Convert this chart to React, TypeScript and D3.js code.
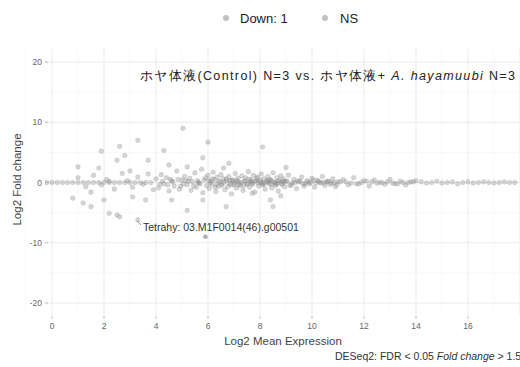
import React from "react";
import * as d3 from "d3";

const xTicks = [0, 2, 4, 6, 8, 10, 12, 14, 16];
const yTicks = [-20, -10, 0, 10, 20];

// NS genes: log2 mean expression and log2 fold change
const nsMean = [
  -0.2, 0.0, 0.2, 0.4, 0.6, 0.8, 1.0, 1.2, 1.4, 1.6, 1.8, 2.0, 2.2, 2.4, 2.6, 2.8, 3.0, 3.2, 3.4, 3.6, 3.8,
  1.0, 1.3, 1.6, 1.9, 2.1, 2.4, 2.7, 2.9, 3.1, 3.3, 3.5, 3.7, 3.9, 2.2, 1.5, 3.0,
  4.0, 4.1, 4.2, 4.3, 4.4, 4.5, 4.6, 4.7, 4.8, 4.9, 5.0, 5.1, 5.2, 5.3, 5.35, 5.4, 5.5, 5.55, 5.6, 5.7,
  5.75, 5.8, 5.9, 5.95, 6.0, 6.05, 6.1, 6.15, 6.2, 6.25, 6.3, 6.35, 6.4, 6.45, 6.5, 6.55, 6.6, 6.65,
  6.7, 6.75, 6.8, 6.85, 6.9, 6.95, 7.0, 7.05, 7.1, 7.15, 7.2, 7.25, 7.3, 7.35, 7.4, 7.45, 7.5, 7.55,
  7.6, 7.65, 7.7, 7.75, 7.8, 7.85, 7.9, 7.95, 8.0, 8.05, 8.1, 8.15, 8.2, 8.25, 8.3, 8.35, 8.4, 8.45,
  8.5, 8.55, 8.6, 8.65, 8.7, 8.75, 8.8, 8.85, 8.9, 8.95, 9.0, 9.1, 9.2, 9.3, 9.4, 9.5, 9.6, 9.7, 9.8,
  9.9, 10.0, 10.1, 10.2, 10.3, 10.4, 10.5, 10.6, 10.7, 10.8, 10.9, 11.0, 11.2, 11.4, 11.6, 11.8, 12.0,
  12.2, 12.4, 12.6, 12.8, 13.0, 13.2, 13.4, 13.6, 13.8, 14.0,
  4.15, 4.55, 4.95, 5.25, 5.65, 6.02, 6.28, 6.58, 6.88, 7.12, 7.38, 7.62, 7.88, 8.12, 8.38, 8.62, 8.88,
  9.15, 9.45, 9.75, 10.05, 10.35, 10.65, 10.95, 11.3, 11.7, 12.1, 12.5, 12.9, 13.3, 13.7,
  4.25, 4.45, 4.65, 4.85, 5.05, 5.15, 5.45, 5.62, 5.85, 6.08, 6.18, 6.32, 6.42, 6.52, 6.62, 6.72, 6.82,
  6.92, 7.02, 7.08, 7.18, 7.28, 7.42, 7.52, 7.58, 7.68, 7.72, 7.82, 7.92, 8.02, 8.08, 8.18, 8.28, 8.32,
  8.42, 8.48, 8.58, 8.68, 8.72, 8.82, 8.92, 9.05, 9.25, 9.35, 9.55, 9.65, 9.85, 9.95, 10.15, 10.25,
  10.45, 10.55, 10.75, 10.85, 11.1, 11.5, 11.9, 12.3, 12.7, 13.1, 13.5, 13.9,
  14.2, 14.4, 14.6, 14.8, 15.0, 15.2, 15.4, 15.6, 15.8, 16.0, 16.2, 16.4, 16.6, 16.8, 17.0, 17.2, 17.4, 17.6, 17.8,
  5.04, 3.3, 2.6, 1.9, 6.0, 8.1, 2.5, 3.7, 5.8, 1.0, 1.8, 4.5, 5.2, 6.8, 2.8, 4.3,
  0.8, 1.5, 2.0, 2.2, 2.6, 3.1, 3.6, 4.6, 5.2, 5.8, 6.7, 7.7, 8.4, 8.5, 3.3, 2.5, 1.2, 9.0, 8.8,
];
const nsLfc = [
  0, 0, 0, 0, 0, 0, 0, 0, 0, 0, 0, 0, 0, 0, 0, 0, 0, 0, 0, 0, 0,
  0.8, -0.7, 1.2, -0.4, 0.5, -1.1, 1.5, 0.3, -0.8, 0.9, -0.3, 1.4, -1.2, 0.2, -1.6, 1.9,
  0.6, -0.9, 1.3, -0.2, 0.8, -1.4, 0.3, -0.6, 1.9, -1.1, 0.4, 1.0, -0.4, 0.7, -1.3, 0.1, 1.6, -0.8, 0.3, -0.2,
  2.2, -1.7, 0.8, -0.5, 1.2, -1.0, 0.2, -0.3, 1.7, 0.5, -1.5, 0.9, -0.6, 0.1, 1.3, -0.2, 2.4, -1.2,
  0.6, -0.7, 1.0, 0.3, -1.9, 0.4, -0.4, 1.5, -0.9, 0.7, 0.0, -0.5, 1.1, -1.3, 0.2, 0.8, -0.3, 1.8,
  -0.8, 0.5, -0.1, 1.2, -1.6, 0.3, 0.9, -0.6, 0.1, 1.4, -0.4, 0.6, -1.1, 0.2, 1.0, -0.2, 0.5, -0.9,
  1.6, 0.0, -0.5, 0.8, -1.4, 0.3, 1.1, -0.3, 0.6, -0.7, 0.2, 1.2, -0.4, 0.5, -1.0, 0.1, 0.9, -0.6, 0.3,
  -0.2, 0.7, -0.8, 0.4, 0.0, 1.0, -0.5, 0.2, -0.3, 0.6, -0.7, 0.1, 0.5, -0.4, 0.8, -0.2, 0.3,
  -0.6, 0.4, 0.0, -0.3, 0.5, -0.2, 0.2, -0.4, 0.1, 0.3,
  -0.3, 0.5, -0.6, 0.2, -0.1, 0.4, -0.8, 0.6, -0.4, 0.3, -0.5, 0.1, 0.7, -0.2, 0.4, -0.3, 0.2,
  -0.5, 0.3, -0.2, 0.4, -0.1, 0.2, -0.3, 0.1, -0.2, 0.2, -0.1, 0.1, -0.2, 0.0,
  0.2, -0.4, 0.1, 0.5, -0.2, 0.3, -0.6, 0.0, 0.4, -0.1, 0.6, -0.3, 0.2, -0.5, 0.1, 0.3, -0.2,
  0.4, -0.1, 0.2, -0.4, 0.0, 0.3, -0.2, 0.5, 0.1, -0.3, 0.2, -0.1, 0.4, 0.0, -0.2, 0.3, 0.1,
  -0.3, 0.2, 0.0, -0.1, 0.3, -0.2, 0.1, 0.2, -0.1, 0.0, 0.2, -0.2, 0.1, 0.0, -0.1, 0.2,
  0.0, 0.1, -0.1, 0.0, 0.1, -0.1, 0.0, 0.1, 0.0, -0.1, 0.0, 0.1,
  0.1, -0.1, 0.0, 0.2, -0.1, 0.0, 0.1, -0.2, 0.0, 0.1, -0.1, 0.0, 0.1, 0.0, -0.1, 0.0, 0.1, 0.0, 0.0,
  9.0, 7.0, 6.0, 5.2, 6.7, 5.9, 3.7, 3.7, 4.1, 2.6, 2.4, 2.9, 2.6, 3.2, 4.5, 5.3,
  -2.6, -4.0, -2.9, -5.1, -5.7, -2.4, -2.9, -2.9, -4.6, -2.9, -4.0, -1.8, -2.9, -4.0, -6.2, -5.4, -3.4, 2.5, -2.2,
];

// Significantly down-regulated genes
const downMean = [5.9];
const downLfc = [-9.0];
const downLabel = ["Tetrahy: 03.M1F0014(46).g00501"];

const legendItems = ["Down: 1", "NS"];

export default function App() {
  const W = 520;
  const H = 367;
  const x = d3.scaleLinear().domain([0, 16]).range([52, 468]);
  const y = d3.scaleLinear().domain([-20, 20]).range([303, 62]);
  const panel = { left: 45, right: 520, top: 48, bottom: 316 };
  const minorX = d3.range(-1, 19, 1).filter((v) => v % 2 !== 0);
  const minorY = [-15, -5, 5, 15];
  const font = "'Liberation Sans', Arial, sans-serif";
  const pts = nsMean.map((m, i) => ({ m, l: nsLfc[i] }));

  return (
    <svg width={W} height={H} style={{ position: "absolute", left: 0, top: 0, background: "#fff" }} fontFamily={font}>
      <defs>
        <clipPath id="pc">
          <rect x={panel.left} y={panel.top} width={panel.right - panel.left} height={panel.bottom - panel.top} />
        </clipPath>
      </defs>
      {/* grid */}
      <g>
        {minorX.map((v) => (
          <line key={"mx" + v} x1={x(v)} x2={x(v)} y1={panel.top} y2={panel.bottom} stroke="#f3f3f3" strokeWidth={0.6} />
        ))}
        {minorY.map((v) => (
          <line key={"my" + v} y1={y(v)} y2={y(v)} x1={panel.left} x2={panel.right} stroke="#f3f3f3" strokeWidth={0.6} />
        ))}
        {xTicks.concat([18]).map((v) => (
          <line key={"gx" + v} x1={x(v)} x2={x(v)} y1={panel.top} y2={panel.bottom} stroke="#e6e6e6" strokeWidth={0.8} />
        ))}
        {yTicks.map((v) => (
          <line key={"gy" + v} y1={y(v)} y2={y(v)} x1={panel.left} x2={panel.right} stroke="#e6e6e6" strokeWidth={0.8} />
        ))}
      </g>
      {/* points */}
      <g clipPath="url(#pc)">
        {pts.map((p, i) => (
          <circle key={i} cx={x(p.m)} cy={y(p.l)} r={2.3} fill="#8a8a8a" fillOpacity={0.35} stroke="#8a8a8a" strokeOpacity={0.45} strokeWidth={0.5} />
        ))}
        {downMean.map((m, i) => (
          <circle key={"d" + i} cx={x(m)} cy={y(downLfc[i])} r={2.3} fill="#777" fillOpacity={0.6} />
        ))}
      </g>
      {/* label for down gene */}
      {downMean.map((m, i) => (
        <g key={"lab" + i}>
          <line x1={137} y1={221} x2={141} y2={225} stroke="#555" strokeWidth={0.6} />
          <text x={143} y={231} fontSize={10.5} fill="#333">{downLabel[i]}</text>
        </g>
      ))}
      {/* axes ticks */}
      {xTicks.map((v) => (
        <g key={"xt" + v}>
          <line x1={x(v)} x2={x(v)} y1={panel.bottom} y2={panel.bottom + 3} stroke="#999" strokeWidth={0.6} />
          <text x={x(v)} y={panel.bottom + 13} fontSize={8.5} fill="#666" textAnchor="middle">{v}</text>
        </g>
      ))}
      {yTicks.map((v) => (
        <g key={"yt" + v}>
          <line x1={panel.left} x2={panel.left + 3} y1={y(v)} y2={y(v)} stroke="#999" strokeWidth={0.6} />
          <text x={panel.left - 3} y={y(v) + 3} fontSize={8.5} fill="#666" textAnchor="end">{v}</text>
        </g>
      ))}
      {/* axis titles */}
      <text x={283} y={345} fontSize={11.5} fill="#444" textAnchor="middle">Log2 Mean Expression</text>
      <text transform={`translate(21,${y(0) - 3}) rotate(-90)`} fontSize={11.5} fill="#444" textAnchor="middle">Log2 Fold change</text>
      {/* subtitle annotation */}
      <text x={140} y={80} fontSize={12.5} fill="#222" textLength={375} lengthAdjust="spacing">
        ホヤ体液(Control) N=3 vs. ホヤ体液+ <tspan fontStyle="italic">A. hayamuubi</tspan> N=3
      </text>
      {/* caption */}
      <text x={335} y={360} fontSize={10.5} fill="#333">
        DESeq2: FDR &lt; 0.05 <tspan fontStyle="italic">Fold change</tspan> &gt; 1.5
      </text>
      {/* legend */}
      <g>
        <circle cx={226} cy={18} r={3} fill="#999" fillOpacity={0.6} />
        <text x={240} y={23} fontSize={13} fill="#222">{legendItems[0]}</text>
        <circle cx={325} cy={18} r={3} fill="#999" fillOpacity={0.6} />
        <text x={340} y={23} fontSize={13} fill="#222">{legendItems[1]}</text>
      </g>
    </svg>
  );
}
